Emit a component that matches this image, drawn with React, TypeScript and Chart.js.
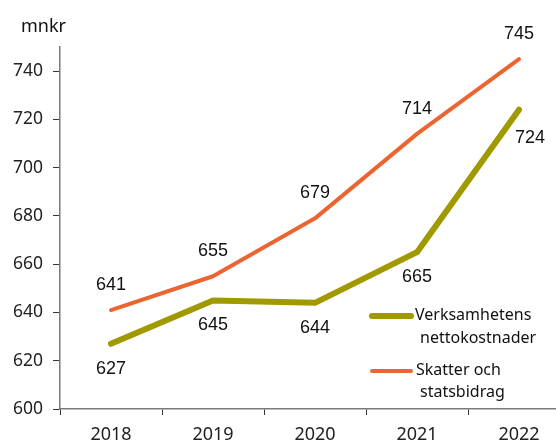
import React, { useEffect, useRef } from "react";
import { Chart, registerables } from "chart.js";

Chart.register(...registerables);

const years = ["2018", "2019", "2020", "2021", "2022"];
const netCosts = [627, 645, 644, 665, 724];
const taxes = [641, 655, 679, 714, 745];
const yTitle = "mnkr";
const legendNet = ["Verksamhetens", "nettokostnader"];
const legendTax = ["Skatter och", "statsbidrag"];

const OLIVE = "#A09A00";
const ORANGE = "#EC6530";

const overlayPlugin = {
  id: "overlay",
  afterDatasetsDraw(chart: any) {
    const ctx = chart.ctx;
    ctx.save();
    // data labels
    ctx.font = "18px 'Liberation Sans', Arial, sans-serif";
    ctx.fillStyle = "#111";
    ctx.textAlign = "center";
    ctx.textBaseline = "middle";
    const m0 = chart.getDatasetMeta(0);
    const m1 = chart.getDatasetMeta(1);
    m0.data.forEach((pt: any, i: number) => {
      const last = i === m0.data.length - 1;
      ctx.fillText(String(netCosts[i]), pt.x + (last ? 11 : 0), pt.y + (last ? 28 : 25));
    });
    m1.data.forEach((pt: any, i: number) => {
      ctx.fillText(String(taxes[i]), pt.x, pt.y - 25);
    });

    // y title
    ctx.font = "18px 'Noto Sans', sans-serif";
    ctx.fillStyle = "#111";
    ctx.textAlign = "left";
    ctx.fillText(yTitle, 21, 27);

    // legend
    ctx.lineCap = "round";
    ctx.strokeStyle = OLIVE;
    ctx.lineWidth = 6;
    ctx.beginPath();
    ctx.moveTo(372, 316);
    ctx.lineTo(411, 316);
    ctx.stroke();
    ctx.strokeStyle = ORANGE;
    ctx.lineWidth = 4;
    ctx.beginPath();
    ctx.moveTo(372, 371);
    ctx.lineTo(411, 371);
    ctx.stroke();

    ctx.font = "16px 'Noto Sans', sans-serif";
    ctx.fillStyle = "#111";
    ctx.fillText(legendNet[0], 415, 315);
    ctx.fillText(legendNet[1], 420, 338);
    ctx.fillText(legendTax[0], 416, 370);
    ctx.fillText(legendTax[1], 420, 392);
    ctx.restore();
  },
};

export default function App() {
  const ref = useRef<HTMLCanvasElement>(null);
  useEffect(() => {
    document.documentElement.style.overflow = "hidden";
    document.body.style.overflow = "hidden";
    const chart = new Chart(ref.current!, {
      type: "line",
      data: {
        labels: years,
        datasets: [
          {
            label: legendNet.join(" "),
            data: netCosts,
            borderColor: OLIVE,
            backgroundColor: OLIVE,
            borderWidth: 6,
            pointRadius: 0,
            borderCapStyle: "round",
            borderJoinStyle: "round",
            tension: 0,
          },
          {
            label: legendTax.join(" "),
            data: taxes,
            borderColor: ORANGE,
            backgroundColor: ORANGE,
            borderWidth: 4,
            pointRadius: 0,
            borderCapStyle: "round",
            borderJoinStyle: "round",
            tension: 0,
          },
        ],
      },
      options: {
        responsive: false,
        animation: false,
        devicePixelRatio: 1,
        layout: { padding: { top: 47, right: 10, left: 0, bottom: 0 } },
        plugins: { legend: { display: false }, tooltip: { enabled: false } },
        scales: {
          x: {
            offset: true,
            grid: {
              offset: true,
              drawOnChartArea: false,
              drawTicks: true,
              tickLength: 6,
              color: "#333",
            },
            border: { display: true, color: "#7a7a7a", width: 1.5 },
            ticks: {
              color: "#222",
              font: { family: "'Noto Sans', sans-serif", size: 18 },
              padding: 9,
              maxRotation: 0,
            },
            afterFit(scale: any) {
              scale.height = 36;
            },
          },
          y: {
            min: 600,
            max: 750,
            grid: {
              drawOnChartArea: false,
              drawTicks: true,
              tickLength: 7,
              color: "#333",
            },
            border: { display: true, color: "#7a7a7a", width: 1.5 },
            ticks: {
              stepSize: 20,
              includeBounds: false,
              color: "#222",
              font: { family: "'Noto Sans', sans-serif", size: 17.5 },
              padding: 10,
            },
            afterFit(scale: any) {
              scale.width = 60;
            },
          },
        },
      },
      plugins: [overlayPlugin],
    } as any);
    return () => chart.destroy();
  }, []);
  return (
    <div style={{ position: "fixed", left: 0, top: 0, width: 556, height: 445, overflow: "hidden", background: "#fff" }}>
      <canvas ref={ref} width={580} height={445} style={{ width: 580, height: 445, display: "block" }} />
    </div>
  );
}
